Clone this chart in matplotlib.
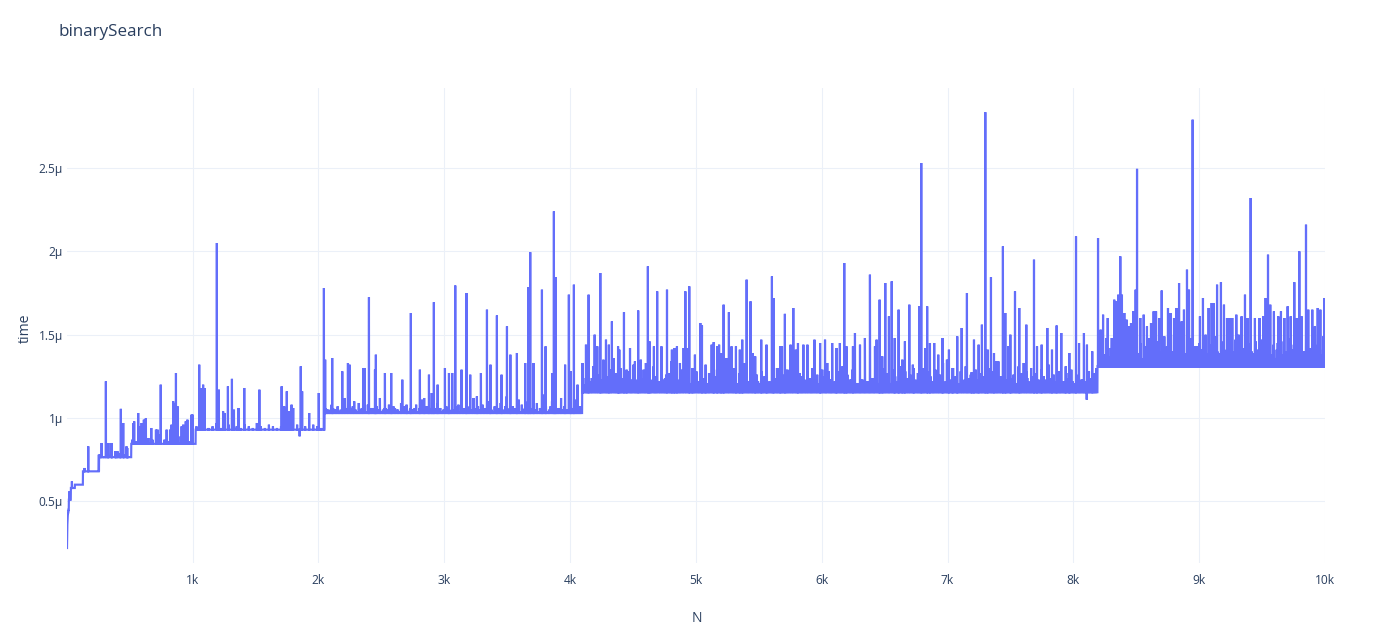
import numpy as np
import matplotlib
matplotlib.use("Agg")
import matplotlib.pyplot as plt
from matplotlib.ticker import FixedLocator

# ---------------- data (time in microseconds) ----------------
title = "binarySearch"
x_label = "N"
y_label = "time"
n_max = 10000

# first values N = 1..15
ramp_t = [0.22, 0.28, 0.33, 0.36, 0.38, 0.40, 0.41, 0.42, 0.43, 0.43,
          0.44, 0.44, 0.45, 0.45, 0.45]

# baseline level for each power-of-two block
level_start = [16, 32, 64, 128, 256, 512, 1024, 2048, 4096, 8192]
level_t = [0.51, 0.58, 0.60, 0.68, 0.765, 0.845, 0.93, 1.03, 1.155, 1.31]

# dense low-level noise (start N, step N, heights)
fill_256_start, fill_256_step = 262, 32
fill_256 = [0.78, 0.77, 0.80, 0.78, 0.77, 0.79, 0.78, 0.77]

fill_512_start, fill_512_step = 520, 32
fill_512 = [0.87, 0.86, 0.89, 0.86, 0.88, 0.87, 0.86, 0.90, 0.87, 0.86,
            0.88, 0.86, 0.89, 0.87, 0.86, 0.88]

fill_1k_start, fill_1k_step = 1030, 32
fill_1k = [0.95, 0.94, 0.96, 0.94, 0.95, 0.97, 0.94, 0.95, 0.96, 0.94,
           0.95, 0.94, 0.96, 0.95, 0.94, 0.97, 0.95, 0.94, 0.96, 0.95,
           0.94, 0.95, 0.97, 0.94, 0.95, 0.96, 0.94, 0.95, 0.94, 0.96,
           0.95, 0.94]

fill_2k_start, fill_2k_step = 2056, 24
fill_2k = [1.06, 1.05, 1.08, 1.05, 1.07, 1.05, 1.10, 1.06, 1.05, 1.07,
           1.05, 1.09, 1.06, 1.05, 1.08, 1.06, 1.05, 1.07, 1.12, 1.05,
           1.06, 1.08, 1.05, 1.06, 1.05, 1.09, 1.07, 1.05, 1.06, 1.05,
           1.08, 1.06, 1.11, 1.05, 1.07, 1.06, 1.05, 1.09, 1.06, 1.05,
           1.07, 1.05, 1.10, 1.06, 1.08, 1.05, 1.06, 1.07, 1.05, 1.12,
           1.06, 1.05, 1.08, 1.06, 1.10, 1.05, 1.07, 1.06, 1.09, 1.05,
           1.13, 1.06, 1.07, 1.05, 1.11, 1.08, 1.06, 1.10, 1.05, 1.07,
           1.09, 1.06, 1.14, 1.07, 1.05, 1.10, 1.08, 1.06, 1.12, 1.07,
           1.05, 1.09, 1.06, 1.11, 1.07]

fill_2k_low_start, fill_2k_low_step = 2068, 24
fill_2k_low = [1.05, 1.04, 1.06, 1.05, 1.04, 1.07, 1.05, 1.04, 1.06, 1.05,
               1.04, 1.05, 1.07, 1.04, 1.05, 1.06, 1.04, 1.05, 1.04, 1.06,
               1.05, 1.04, 1.07, 1.05, 1.04, 1.06, 1.05, 1.04, 1.05, 1.06,
               1.04, 1.05, 1.04, 1.07, 1.05, 1.04, 1.06, 1.05, 1.04, 1.05,
               1.06, 1.04, 1.05, 1.07, 1.04, 1.05, 1.06, 1.04, 1.05, 1.04,
               1.07, 1.05, 1.04, 1.06, 1.05, 1.04, 1.05, 1.06, 1.04, 1.07,
               1.05, 1.04, 1.06, 1.05, 1.04, 1.05, 1.07, 1.04, 1.06, 1.05,
               1.04, 1.05, 1.06, 1.04, 1.07, 1.05, 1.04, 1.06, 1.05, 1.04,
               1.05, 1.06, 1.04, 1.05, 1.07]

fill_4k_start, fill_4k_step = 4104, 20
fill_4k = [1.24, 1.20, 1.28, 1.22, 1.31, 1.21, 1.26, 1.23, 1.33, 1.20,
           1.25, 1.29, 1.21, 1.27, 1.22, 1.30, 1.24, 1.20, 1.28, 1.23,
           1.32, 1.21, 1.26, 1.24, 1.29, 1.22, 1.27, 1.20, 1.31, 1.25,
           1.22, 1.28, 1.23, 1.26, 1.21, 1.34, 1.24, 1.27, 1.20, 1.29,
           1.23, 1.26, 1.30, 1.21, 1.25, 1.28, 1.22, 1.32, 1.24, 1.21,
           1.27, 1.23, 1.29, 1.25, 1.20, 1.31, 1.26, 1.22, 1.28, 1.24,
           1.30, 1.21, 1.27, 1.23, 1.33, 1.25, 1.22, 1.29, 1.24, 1.26,
           1.21, 1.28, 1.25, 1.31, 1.22, 1.27, 1.24, 1.20, 1.30, 1.23,
           1.26, 1.22, 1.29, 1.24, 1.32, 1.21, 1.27, 1.25, 1.23, 1.28,
           1.24, 1.30, 1.22, 1.26, 1.21, 1.29, 1.25, 1.33, 1.23, 1.27,
           1.22, 1.28, 1.24, 1.31, 1.20, 1.26, 1.23, 1.29, 1.25, 1.21,
           1.29, 1.23, 1.27, 1.22, 1.32, 1.24, 1.28, 1.21, 1.26, 1.30,
           1.23, 1.27, 1.21, 1.29, 1.25, 1.22, 1.31, 1.24, 1.28, 1.20,
           1.26, 1.32, 1.23, 1.27, 1.24, 1.30, 1.21, 1.28, 1.25, 1.22,
           1.29, 1.24, 1.26, 1.33, 1.22, 1.27, 1.23, 1.30, 1.25, 1.21,
           1.28, 1.22, 1.31, 1.24, 1.26, 1.20, 1.29, 1.23, 1.27, 1.25,
           1.21, 1.30, 1.24, 1.28, 1.22, 1.34, 1.25, 1.27, 1.23, 1.29,
           1.24, 1.26, 1.21, 1.31, 1.27, 1.23, 1.28, 1.22, 1.30, 1.25,
           1.27, 1.23, 1.29, 1.25, 1.21, 1.32, 1.24, 1.26, 1.22, 1.28,
           1.30, 1.22, 1.27, 1.24, 1.29, 1.21, 1.26, 1.31, 1.23, 1.25,
           1.22, 1.28, 1.24, 1.27, 1.30]

fill_4k_low_start, fill_4k_low_step = 4114, 20
fill_4k_low = [1.19, 1.22, 1.18, 1.21, 1.23, 1.18, 1.20, 1.22, 1.17, 1.21,
               1.23, 1.19, 1.21, 1.18, 1.22, 1.20, 1.24, 1.18, 1.21, 1.19,
               1.20, 1.23, 1.18, 1.22, 1.19, 1.21, 1.17, 1.23, 1.20, 1.22,
               1.18, 1.21, 1.24, 1.19, 1.22, 1.18, 1.20, 1.23, 1.21, 1.17,
               1.22, 1.19, 1.21, 1.24, 1.18, 1.20, 1.22, 1.19, 1.23, 1.21,
               1.18, 1.22, 1.20, 1.17, 1.23, 1.19, 1.21, 1.24, 1.18, 1.20,
               1.21, 1.18, 1.23, 1.20, 1.22, 1.19, 1.24, 1.21, 1.18, 1.22,
               1.19, 1.23, 1.17, 1.21, 1.20, 1.22, 1.18, 1.24, 1.19, 1.21,
               1.22, 1.20, 1.18, 1.23, 1.21, 1.19, 1.22, 1.17, 1.20, 1.24,
               1.18, 1.21, 1.23, 1.19, 1.22, 1.20, 1.18, 1.21, 1.23, 1.19,
               1.21, 1.24, 1.18, 1.20, 1.22, 1.17, 1.23, 1.19, 1.21, 1.20,
               1.23, 1.19, 1.22, 1.18, 1.21, 1.24, 1.20, 1.18, 1.22, 1.19,
               1.20, 1.22, 1.17, 1.23, 1.19, 1.21, 1.18, 1.22, 1.24, 1.20,
               1.22, 1.18, 1.21, 1.19, 1.23, 1.20, 1.22, 1.17, 1.21, 1.24,
               1.19, 1.21, 1.23, 1.18, 1.20, 1.22, 1.19, 1.24, 1.21, 1.18,
               1.21, 1.23, 1.19, 1.22, 1.17, 1.20, 1.23, 1.18, 1.21, 1.22,
               1.20, 1.18, 1.22, 1.24, 1.19, 1.21, 1.17, 1.23, 1.20, 1.22,
               1.23, 1.19, 1.21, 1.18, 1.22, 1.20, 1.24, 1.19, 1.21, 1.18,
               1.18, 1.22, 1.20, 1.23, 1.19, 1.21, 1.18, 1.22, 1.20, 1.24,
               1.21, 1.19, 1.23, 1.18, 1.22, 1.20, 1.17, 1.21, 1.23, 1.19,
               1.22, 1.20, 1.18, 1.21, 1.19]

fill_8k_start, fill_8k_step = 8200, 16
fill_8k = [1.40, 1.36, 1.45, 1.38, 1.48, 1.37, 1.42, 1.39, 1.46, 1.36,
           1.43, 1.38, 1.47, 1.40, 1.36, 1.44, 1.41, 1.49, 1.37, 1.42,
           1.39, 1.45, 1.36, 1.43, 1.40, 1.48, 1.38, 1.44, 1.37, 1.46,
           1.41, 1.36, 1.47, 1.39, 1.43, 1.38, 1.50, 1.40, 1.37, 1.45,
           1.42, 1.38, 1.46, 1.36, 1.44, 1.40, 1.48, 1.39, 1.43, 1.37,
           1.45, 1.41, 1.36, 1.47, 1.39, 1.44, 1.38, 1.42, 1.49, 1.40,
           1.37, 1.46, 1.41, 1.38, 1.45, 1.36, 1.43, 1.40, 1.47, 1.39,
           1.44, 1.37, 1.42, 1.48, 1.38, 1.45, 1.40, 1.36, 1.46, 1.41,
           1.39, 1.47, 1.37, 1.43, 1.40, 1.49, 1.38, 1.44, 1.36, 1.45,
           1.42, 1.38, 1.46, 1.40, 1.37, 1.48, 1.41, 1.44, 1.39, 1.43,
           1.36, 1.45, 1.40, 1.47, 1.38, 1.42, 1.39, 1.46, 1.37, 1.44,
           1.41, 1.38, 1.43]

fill_8k_low_start, fill_8k_low_step = 8208, 16
fill_8k_low = [1.36, 1.34, 1.38, 1.35, 1.39, 1.34, 1.37, 1.40, 1.35, 1.38,
               1.34, 1.37, 1.35, 1.39, 1.36, 1.34, 1.38, 1.41, 1.35, 1.37,
               1.39, 1.35, 1.37, 1.34, 1.40, 1.36, 1.38, 1.35, 1.39, 1.34,
               1.37, 1.40, 1.35, 1.38, 1.34, 1.36, 1.39, 1.35, 1.37, 1.41,
               1.34, 1.38, 1.36, 1.39, 1.35, 1.37, 1.34, 1.40, 1.36, 1.38,
               1.35, 1.39, 1.34, 1.37, 1.36, 1.40, 1.35, 1.38, 1.34, 1.37,
               1.39, 1.36, 1.41, 1.35, 1.38, 1.34, 1.37, 1.39, 1.35, 1.36,
               1.38, 1.34, 1.40, 1.36, 1.37, 1.35, 1.39, 1.34, 1.38, 1.36,
               1.35, 1.39, 1.37, 1.34, 1.40, 1.36, 1.38, 1.35, 1.41, 1.37,
               1.34, 1.38, 1.36, 1.39, 1.35, 1.37, 1.40, 1.34, 1.38, 1.36,
               1.39, 1.35, 1.37, 1.34, 1.38, 1.36, 1.40, 1.35, 1.37, 1.39,
               1.36, 1.34, 1.38]

# individual spikes / dips
spike_N = [20, 40, 140, 170, 254, 276, 310, 330, 355, 385, 403, 429, 448, 474, 480,
           527, 535, 567, 580, 594, 612, 628, 671, 708, 721, 746, 793, 820, 832, 845,
           853, 867, 880, 912, 925, 945, 958, 991, 1000,
           1052, 1065, 1083, 1094, 1192, 1208, 1242, 1253, 1280, 1312, 1328, 1364, 1410,
           1530, 1707, 1727, 1748, 1767, 1786, 1799, 1850, 1859, 1870, 1926, 2002,
           2043, 2053, 2109, 2189, 2210, 2234, 2247, 2284, 2355, 2366, 2401, 2449, 2456,
           2528, 2578, 2666, 2700, 2734, 2806, 2840, 2878, 2900, 2917, 2947, 3005, 3037,
           3063, 3087, 3137, 3177, 3206, 3259, 3291, 3339, 3367, 3418, 3455, 3498, 3525,
           3577, 3643, 3667, 3683, 3709, 3776, 3805, 3858, 3871, 3885, 3960, 3990, 4006,
           4030, 4059,
           4099, 4126, 4147, 4172, 4195, 4216, 4240, 4264, 4285, 4308, 4332, 4346, 4381,
           4391, 4428, 4449, 4476, 4515, 4541, 4562, 4602, 4618, 4631, 4666, 4692, 4726,
           4770, 4785, 4809, 4828, 4849, 4873, 4902, 4916, 4932, 4947, 4971, 4992, 5035,
           5048, 5077, 5125, 5141, 5168, 5184, 5200, 5220, 5242, 5262, 5283, 5318, 5349,
           5368, 5403, 5434, 5452, 5471, 5519, 5561, 5604, 5617, 5644, 5670, 5684, 5707,
           5723, 5752, 5774, 5795, 5811, 5854, 5886, 5942, 5987, 6026, 6056, 6083, 6117,
           6144, 6179, 6197, 6248, 6264, 6304, 6343, 6383, 6423, 6436, 6460, 6481, 6505,
           6534, 6556, 6580, 6611, 6640, 6661, 6696, 6731, 6775, 6791, 6822, 6838, 6860,
           6894, 6926, 6960, 6995, 7011, 7040, 7077, 7112, 7154, 7191, 7210, 7247, 7273,
           7300, 7319, 7345, 7369, 7385, 7422, 7440, 7459, 7483, 7499, 7536, 7570, 7605,
           7626, 7687, 7711, 7748, 7793, 7830, 7867, 7904, 7939, 7968, 8021, 8045, 8084,
           8106, 8108, 8150,
           8196, 8217, 8236, 8273, 8305, 8325, 8341, 8357, 8373, 8386, 8405, 8423, 8439,
           8458, 8476, 8495, 8506, 8532, 8559, 8585, 8617, 8638, 8657, 8681, 8702, 8723,
           8752, 8773, 8800, 8819, 8840, 8861, 8879, 8903, 8919, 8948, 8982, 9006, 9030,
           9051, 9075, 9099, 9115, 9142, 9173, 9197, 9221, 9242, 9263, 9295, 9313, 9337,
           9364, 9385, 9409, 9443, 9480, 9509, 9528, 9547, 9565, 9594, 9629, 9650, 9677,
           9703, 9727, 9756, 9777, 9796, 9814, 9849, 9867, 9899, 9920, 9942, 9963, 9987,
           9995]
spike_t = [0.56, 0.62, 0.70, 0.83, 0.78, 0.85, 1.22, 0.85, 0.85, 0.80, 0.80, 1.055, 0.97, 0.83, 0.82,
           0.97, 0.98, 1.03, 0.95, 0.97, 0.99, 1.00, 0.94, 0.93, 0.93, 1.20, 0.93, 0.93, 0.96, 1.10,
           1.09, 1.27, 1.07, 0.95, 0.96, 0.98, 0.99, 1.02, 1.02,
           1.32, 1.18, 1.20, 1.18, 2.05, 1.17, 1.04, 1.03, 1.19, 1.235, 1.05, 1.06, 1.18,
           1.17, 1.19, 1.07, 1.16, 1.04, 1.08, 1.06, 0.89, 1.31, 1.16, 1.03, 1.15,
           1.78, 1.35, 1.36, 1.28, 1.12, 1.33, 1.32, 1.10, 1.30, 1.30, 1.725, 1.29, 1.38,
           1.27, 1.27, 1.23, 1.08, 1.63, 1.29, 1.12, 1.26, 1.15, 1.695, 1.20, 1.30, 1.27,
           1.27, 1.795, 1.29, 1.75, 1.26, 1.13, 1.27, 1.65, 1.32, 1.615, 1.26, 1.55, 1.38,
           1.39, 1.33, 1.785, 1.995, 1.33, 1.77, 1.43, 1.27, 2.24, 1.845, 1.32, 1.74, 1.28,
           1.80, 1.20,
           1.33, 1.44, 1.74, 1.24, 1.50, 1.43, 1.87, 1.35, 1.47, 1.44, 1.58, 1.36, 1.43,
           1.41, 1.635, 1.29, 1.42, 1.34, 1.645, 1.35, 1.33, 1.91, 1.46, 1.43, 1.76, 1.43,
           1.77, 1.27, 1.41, 1.42, 1.43, 1.33, 1.42, 1.76, 1.42, 1.79, 1.30, 1.38, 1.57,
           1.555, 1.32, 1.44, 1.455, 1.43, 1.44, 1.39, 1.68, 1.36, 1.635, 1.43, 1.43, 1.41,
           1.47, 1.83, 1.70, 1.39, 1.37, 1.47, 1.44, 1.85, 1.72, 1.30, 1.43, 1.43, 1.625,
           1.29, 1.44, 1.66, 1.41, 1.45, 1.44, 1.44, 1.47, 1.45, 1.47, 1.28, 1.45, 1.42,
           1.45, 1.93, 1.43, 1.43, 1.51, 1.44, 1.48, 1.86, 1.43, 1.47, 1.71, 1.37, 1.81,
           1.61, 1.82, 1.48, 1.65, 1.35, 1.46, 1.68, 1.30, 1.67, 2.53, 1.42, 1.67, 1.45,
           1.45, 1.38, 1.48, 1.35, 1.41, 1.30, 1.49, 1.54, 1.75, 1.275, 1.47, 1.44, 1.56,
           2.835, 1.41, 1.845, 1.39, 1.34, 1.25, 2.03, 1.63, 1.43, 1.50, 1.76, 1.66, 1.33,
           1.56, 1.95, 1.43, 1.44, 1.54, 1.41, 1.555, 1.51, 1.31, 1.39, 2.09, 1.45, 1.51,
           1.11, 1.44, 1.40,
           2.08, 1.53, 1.62, 1.60, 1.48, 1.71, 1.70, 1.74, 1.97, 1.74, 1.63, 1.59, 1.55,
           1.57, 1.64, 1.77, 2.495, 1.60, 1.62, 1.55, 1.57, 1.64, 1.64, 1.60, 1.765, 1.49,
           1.66, 1.63, 1.60, 1.66, 1.81, 1.58, 1.65, 1.89, 1.77, 2.79, 1.43, 1.61, 1.72,
           1.50, 1.66, 1.69, 1.69, 1.80, 1.815, 1.68, 1.60, 1.60, 1.60, 1.62, 1.50, 1.61,
           1.74, 1.60, 2.32, 1.60, 1.60, 1.61, 1.72, 1.98, 1.68, 1.64, 1.61, 1.64, 1.60,
           1.67, 1.61, 1.815, 1.60, 2.00, 1.61, 2.16, 1.65, 1.65, 1.55, 1.66, 1.65, 1.49,
           1.72]

x_ticks = [1000, 2000, 3000, 4000, 5000, 6000, 7000, 8000, 9000, 10000]
x_tick_labels = ["1k", "2k", "3k", "4k", "5k", "6k", "7k", "8k", "9k", "10k"]
y_ticks = [0.5, 1.0, 1.5, 2.0, 2.5]
y_tick_labels = ["0.5µ", "1µ", "1.5µ", "2µ", "2.5µ"]

# ---------------- build series ----------------
N = np.arange(1, n_max + 1)
t = np.zeros(n_max)
t[:len(ramp_t)] = ramp_t
for s, lv in zip(level_start, level_t):
    t[N >= s] = lv

def apply_fill(start, step, vals):
    for i, v in enumerate(vals):
        idx = start + i * step - 1
        if 0 <= idx < n_max:
            t[idx] = max(t[idx], v)

apply_fill(fill_256_start, fill_256_step, fill_256)
apply_fill(fill_512_start, fill_512_step, fill_512)
apply_fill(fill_1k_start, fill_1k_step, fill_1k)
apply_fill(fill_2k_start, fill_2k_step, fill_2k)
apply_fill(fill_2k_low_start, fill_2k_low_step, fill_2k_low)
apply_fill(fill_4k_start, fill_4k_step, fill_4k)
apply_fill(fill_4k_low_start, fill_4k_low_step, fill_4k_low)
apply_fill(fill_8k_start, fill_8k_step, fill_8k)
apply_fill(fill_8k_low_start, fill_8k_low_step, fill_8k_low)
for n, v in zip(spike_N, spike_t):
    t[n - 1] = v

# ---------------- plot ----------------
W, H = 1376, 632
fig = plt.figure(figsize=(W / 100, H / 100), dpi=100)
left, right, top, bottom = 67, 1325, 88, 563
ax = fig.add_axes([left / W, 1 - bottom / H, (right - left) / W, (bottom - top) / H])

text_color = "#2a3f5f"
grid_color = "#ebf0f8"
font = "Open Sans"

ax.plot(N, t, color="#636efa", linewidth=1.55, solid_joinstyle="miter")
ax.set_xlim(1, n_max)
ax.set_ylim(0.13, 2.98)

ax.xaxis.set_major_locator(FixedLocator(x_ticks))
ax.set_xticklabels(x_tick_labels)
ax.yaxis.set_major_locator(FixedLocator(y_ticks))
ax.set_yticklabels(y_tick_labels)
ax.grid(True, color=grid_color, linewidth=0.75)
ax.set_axisbelow(True)
for sp in ax.spines.values():
    sp.set_visible(False)
ax.tick_params(axis="both", length=0, labelsize=8.64, labelcolor=text_color)
ax.tick_params(axis="x", pad=8)
ax.tick_params(axis="y", pad=3)
for lab in ax.get_xticklabels() + ax.get_yticklabels():
    lab.set_fontfamily(font)

fig.text(58 / W, 1 - 32 / H, title, fontsize=12.24, color=text_color,
         fontfamily=font, ha="left", va="center")
fig.text(697 / W, 1 - 618 / H, x_label, fontsize=10.08, color=text_color,
         fontfamily=font, ha="center", va="center")
fig.text(25 / W, 1 - 328 / H, y_label, fontsize=10.08, color=text_color,
         fontfamily=font, ha="center", va="center", rotation=90)

fig.savefig("out.png", dpi=100)
